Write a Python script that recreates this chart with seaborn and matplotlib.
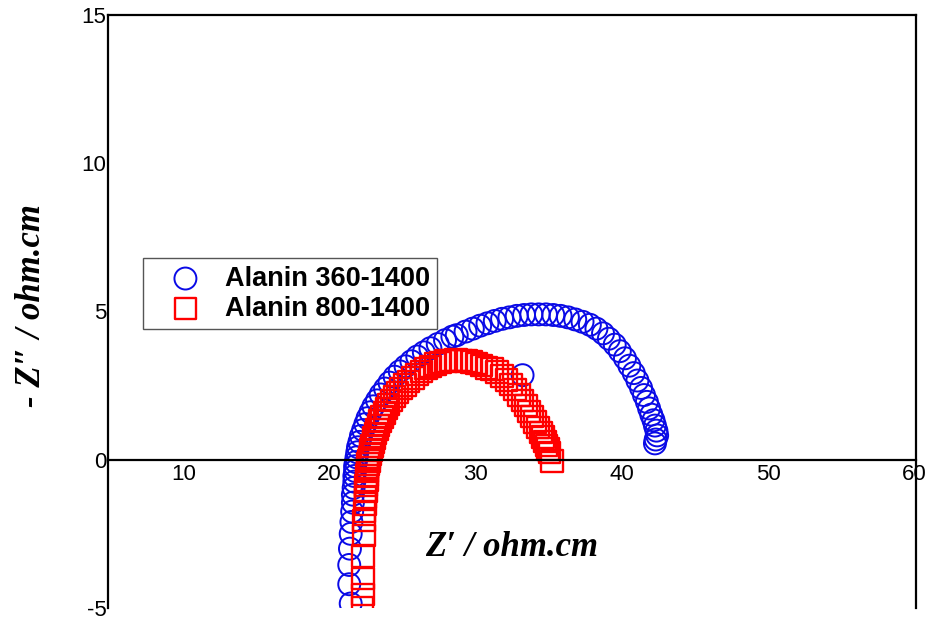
import pandas as pd
import matplotlib.pyplot as plt
import seaborn as sns

# === 1. Data ===
# Alanin 360-1400 (circles)
x_360 = [21.45, 21.35, 21.35, 21.4, 21.45, 21.5, 21.55, 21.6, 21.6, 21.65, 21.7, 21.7, 21.75, 21.75, 21.8,
         21.85, 21.9, 21.95, 22.05, 22.15, 22.3, 22.45, 22.6, 22.8, 23.0, 23.25, 23.5, 23.8, 24.1, 24.45,
         24.8, 25.2, 25.6, 26.0, 26.45, 26.9, 27.4, 27.9, 28.4, 28.7, 29.3, 29.8, 30.3, 30.8, 31.3,
         31.8, 32.3, 32.8, 33.3, 33.8, 34.3, 34.8, 35.3, 35.8, 36.3, 36.8, 37.3, 37.8, 38.25, 38.7,
         39.1, 39.5, 39.85, 40.2, 40.5, 40.8, 41.05, 41.3, 41.5, 41.7, 41.85, 42.0, 42.15, 42.25, 42.35,
         42.4, 42.3, 42.25, 33.2]
y_360 = [-4.85, -4.2, -3.55, -3.0, -2.5, -2.1, -1.75, -1.45, -1.18, -0.95, -0.74, -0.55, -0.38, -0.22, -0.08,
         0.08, 0.25, 0.42, 0.6, 0.8, 1.0, 1.2, 1.4, 1.6, 1.8, 2.0, 2.2, 2.4, 2.6, 2.8,
         2.98, 3.15, 3.32, 3.48, 3.62, 3.76, 3.9, 4.03, 4.15, 4.2, 4.32, 4.42, 4.52, 4.6, 4.68,
         4.75, 4.8, 4.85, 4.88, 4.9, 4.9, 4.9, 4.88, 4.85, 4.8, 4.73, 4.65, 4.55, 4.42, 4.26,
         4.08, 3.88, 3.66, 3.42, 3.17, 2.92, 2.67, 2.42, 2.18, 1.95, 1.73, 1.52, 1.33, 1.15, 0.98,
         0.82, 0.68, 0.55, 2.85]

# Alanin 800-1400 (squares)
x_800 = [22.25, 22.3, 22.3, 22.3, 22.35, 22.35, 22.4, 22.45, 22.45, 22.5, 22.5, 22.55, 22.55, 22.6, 22.6,
         22.65, 22.7, 22.75, 22.8, 22.85, 22.9, 23.0, 23.05, 23.15, 23.25, 23.35, 23.45, 23.6, 23.75, 23.9,
         24.05, 24.25, 24.45, 24.65, 24.9, 25.15, 25.4, 25.7, 26.0, 26.3, 26.6, 26.9, 27.25, 27.6, 27.95,
         28.3, 28.65, 29.0, 29.35, 29.7, 30.05, 30.4, 30.75, 31.1, 31.45, 31.8, 32.1, 32.4, 32.7, 32.95,
         33.2, 33.45, 33.65, 33.85, 34.05, 34.25, 34.45, 34.6, 34.75, 34.85, 34.95, 35.05, 35.2]
y_800 = [-5.0, -4.55, -4.0, -3.25, -2.55, -2.05, -1.75, -1.5, -1.27, -1.06, -0.87, -0.7, -0.54, -0.4, -0.27,
         -0.15, -0.04, 0.08, 0.2, 0.33, 0.46, 0.6, 0.74, 0.88, 1.02, 1.16, 1.3, 1.44, 1.58, 1.72,
         1.86, 2.0, 2.13, 2.26, 2.4, 2.52, 2.64, 2.76, 2.88, 2.98, 3.07, 3.15, 3.22, 3.28, 3.32,
         3.35, 3.36, 3.35, 3.33, 3.3, 3.25, 3.18, 3.1, 3.05, 2.95, 2.82, 2.68, 2.53, 2.36, 2.18,
         2.0, 1.82, 1.63, 1.45, 1.27, 1.09, 0.92, 0.76, 0.61, 0.48, 0.36, 0.25, -0.05]

x_ticks = [10, 20, 30, 40, 50, 60]
y_ticks = [-5, 0, 5, 10, 15]

df_360 = pd.DataFrame({'Zre': x_360, 'Zim': y_360})
df_800 = pd.DataFrame({'Zre': x_800, 'Zim': y_800})

# === 2. Style ===
sns.set_style("white")
plt.rcParams['font.family'] = ['Liberation Sans', 'DejaVu Sans']
plt.rcParams['axes.unicode_minus'] = False
plt.rcParams['text.color'] = 'black'
plt.rcParams['axes.labelcolor'] = 'black'
plt.rcParams['xtick.color'] = 'black'
plt.rcParams['ytick.color'] = 'black'

fig = plt.figure(figsize=(9.3, 6.21), dpi=100)
ax = fig.add_axes([0.116, 0.021, 0.869, 0.955])

# === 3. Points ===
sns.scatterplot(data=df_360, x='Zre', y='Zim', ax=ax, marker='o', s=250,
                facecolor='none', edgecolor='#0a0ae6', linewidth=1.4,
                label='Alanin 360-1400')
sns.scatterplot(data=df_800, x='Zre', y='Zim', ax=ax, marker='s', s=240,
                facecolor='none', edgecolor='#ff0000', linewidth=1.7,
                label='Alanin 800-1400')

# === 4. Axes ===
ax.set_xlim(4.85, 60.1)
ax.set_ylim(-5, 15)
ax.set_xticks(x_ticks)
ax.set_yticks(y_ticks)
ax.tick_params(length=0, labelsize=16)
ax.tick_params(axis='x', pad=3)
ax.tick_params(axis='y', pad=1)

for side in ['left', 'right', 'top', 'bottom']:
    ax.spines[side].set_linewidth(1.6)
    ax.spines[side].set_color('black')
ax.spines['bottom'].set_position(('data', 0))

label_font = dict(family=['Liberation Serif', 'DejaVu Serif'], fontsize=25,
                  fontweight='bold', fontstyle='italic', color='black')
ax.set_xlabel('Z\u2032 / ohm.cm', **label_font)
ax.set_ylabel('- Z\u2033 / ohm.cm', **label_font)
ax.xaxis.set_label_coords(0.5, 0.13)
ax.yaxis.set_label_coords(-0.074, 0.51)

leg = ax.legend(loc='upper left', bbox_to_anchor=(0.043, 0.59), frameon=True,
                fancybox=False, edgecolor='#555555', framealpha=1,
                prop={'weight': 'bold', 'size': 19.5}, handlelength=2.6,
                handletextpad=0.15, borderpad=0.28, labelspacing=0.15,
                borderaxespad=0)
leg.get_frame().set_linewidth(1.0)

fig.savefig("out.png", dpi=100)
